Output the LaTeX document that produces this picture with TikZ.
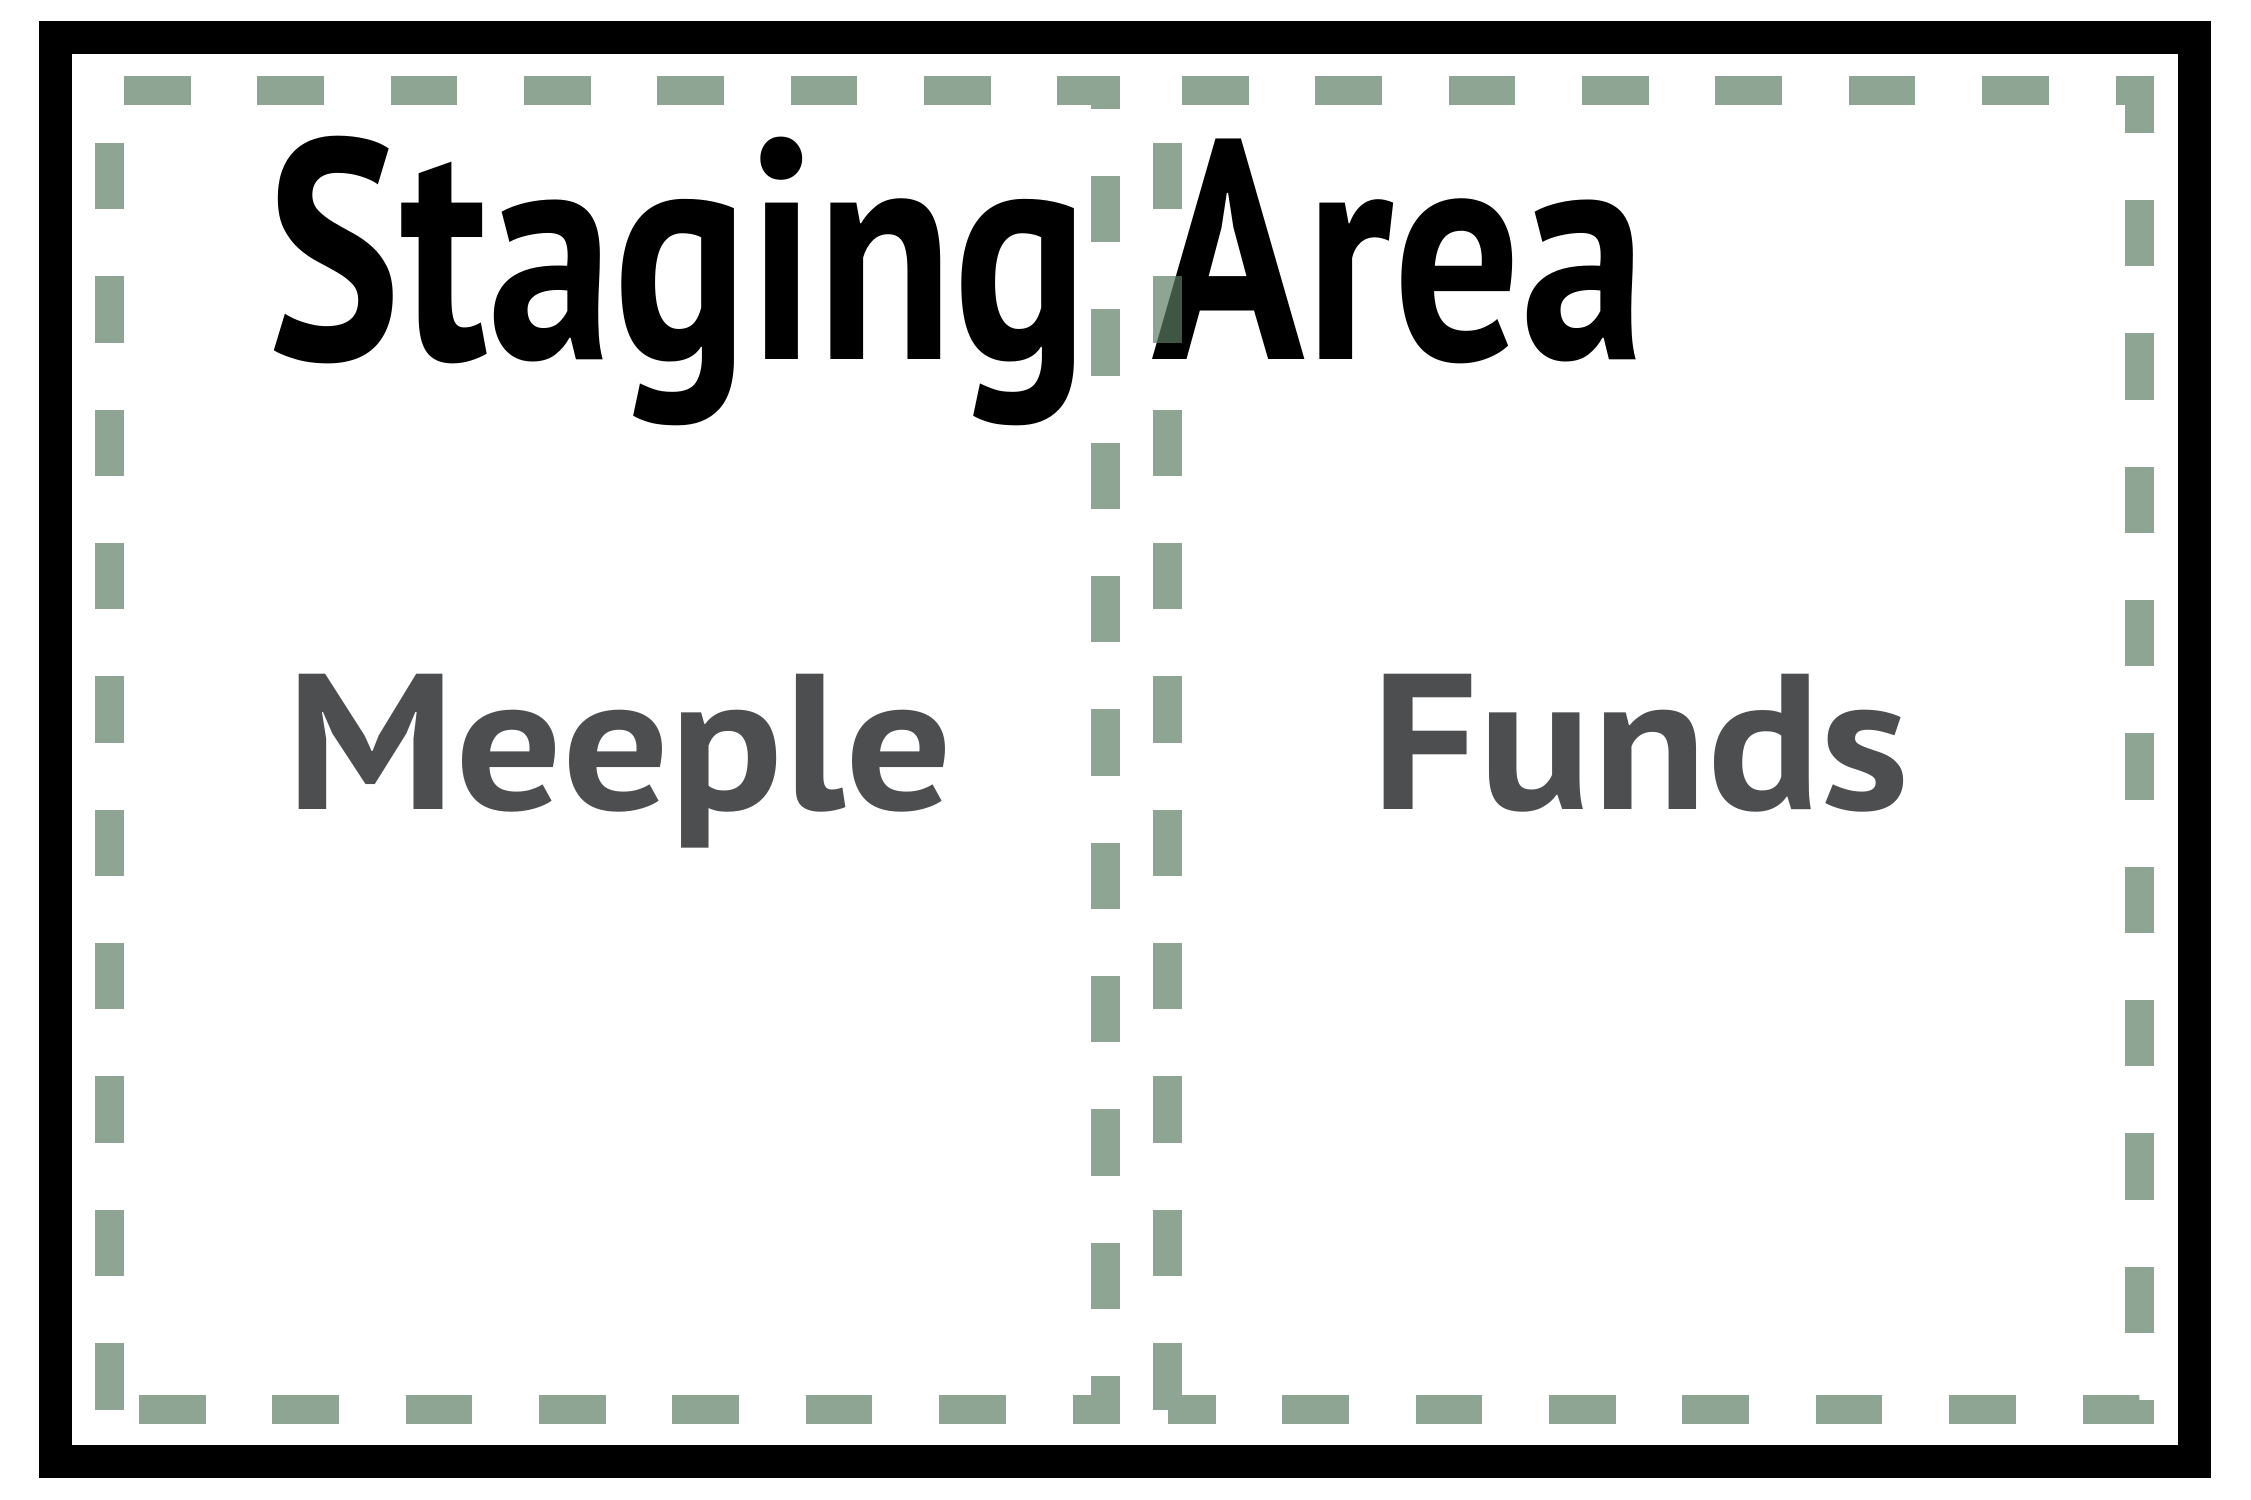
\documentclass[tikz,border=0pt]{standalone}
\usepackage{fontspec}
\usepackage{graphicx}
\setmainfont{PT Sans}
\definecolor{sage}{RGB}{91,125,98}
\definecolor{inkgray}{RGB}{77,78,80}
\tikzset{
  zone/.style={draw=sage, draw opacity=0.69, line width=5.8mm, dash pattern=on 13.3mm off 13.37mm},
  cardtext/.style={inner sep=0pt, anchor=base west, font=\bfseries},
}
\begin{document}
\begin{tikzpicture}[x=0.2mm, y=-0.2mm]
\useasboundingbox (0,0) rectangle (2251,1500);
\draw [line width=6.6mm] (55.5,37.5) rectangle (2194.5,1461.5);
\node [cardtext] (title) at (267,359) {\fontsize{178}{200}\selectfont\resizebox{275.8mm}{\height}{Staging Area}};
\node [cardtext, text=inkgray] (meeple) at (286,809) {\fontsize{110}{120}\selectfont\resizebox{133.3mm}{\height}{Meeple}};
\node [cardtext, text=inkgray] (funds) at (1371,809) {\fontsize{110}{120}\selectfont\resizebox{107.7mm}{\height}{Funds}};
% the two dashed areas
\draw [zone] (109.5,1409.5) -- (109.5,90.5) -- (1105.5,90.5) -- (1105.5,1409.5) -- cycle;
\draw [zone] (1167.5,1409.5) -- (1167.5,90.5) -- (2139.5,90.5) -- (2139.5,1409.5) -- cycle;
\end{tikzpicture}
\end{document}
